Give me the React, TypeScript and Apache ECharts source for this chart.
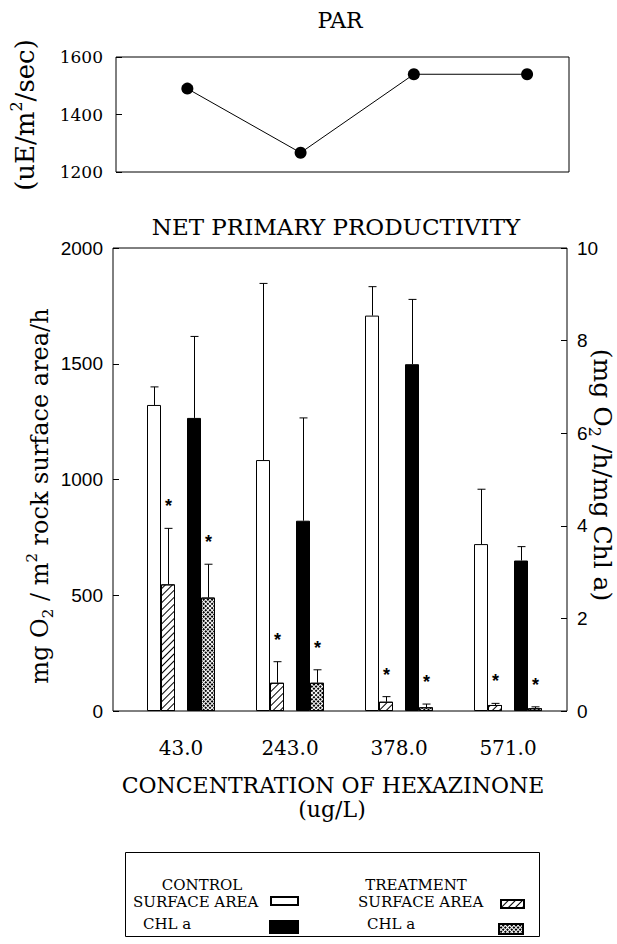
import React, { useEffect, useRef } from "react";
import * as echarts from "echarts";

// ---------- data ----------
const concentrations = ["43.0", "243.0", "378.0", "571.0"];
const parValues = [1490, 1267, 1540, 1540];

// left axis: mg O2 / m2 rock surface area / h
const controlSurface = [1322, 1084, 1708, 721];
const controlSurfaceErr = [1400, 1847, 1833, 958];
const treatSurface = [547, 122, 40, 26];
const treatSurfaceErr = [789, 213, 62, 33];

// right axis: mg O2 / h / mg Chl a
const controlChl = [6.33, 4.11, 7.49, 3.25];
const controlChlErr = [8.09, 6.33, 8.89, 3.55];
const treatChl = [2.45, 0.61, 0.08, 0.06];
const treatChlErr = [3.17, 0.89, 0.15, 0.09];

const SERIF = "DejaVu Serif";
const SANS = "Liberation Sans";
const BAR_W = 14;
const GAP_W = 12;

const hatchDecal = {
  symbol: "rect",
  symbolSize: 1,
  color: "#000",
  backgroundColor: "#fff",
  dashArrayX: [1, 0],
  dashArrayY: [1, 4],
  rotation: -Math.PI / 4,
};
const crossDecal = {
  symbol: "rect",
  symbolSize: 1,
  color: "#000",
  backgroundColor: "#fff",
  dashArrayX: [2, 1],
  dashArrayY: [2, 1],
  rotation: Math.PI / 4,
};

const plain = (v: number) => String(v);

function errSeries(vals: number[], errs: number[], yIdx: number, offset: number, star: boolean) {
  return {
    type: "custom",
    xAxisIndex: 2,
    yAxisIndex: yIdx,
    z: 5,
    silent: true,
    data: vals.map((v, i) => [i, v, errs[i]]),
    renderItem: (params: any, api: any) => {
      const i = api.value(0);
      const b = api.coord([i, api.value(1)]);
      const t = api.coord([i, api.value(2)]);
      const x = Math.round(b[0] + offset) + 0.5;
      const children: any[] = [
        { type: "line", shape: { x1: x, y1: b[1], x2: x, y2: t[1] }, style: { stroke: "#000", lineWidth: 1 } },
        { type: "line", shape: { x1: x - 4, y1: t[1], x2: x + 4, y2: t[1] }, style: { stroke: "#000", lineWidth: 1 } },
      ];
      if (star) {
        children.push({
          type: "text",
          x: x,
          y: t[1] - 22,
          style: { text: "*", fontSize: 18, fontWeight: "bold", fontFamily: SANS, align: "center", verticalAlign: "middle", fill: "#000" },
        });
      }
      return { type: "group", children };
    },
  };
}

export default function App() {
  const ref = useRef<HTMLDivElement>(null);
  useEffect(() => {
    if (!ref.current) return;
    const chart = echarts.init(ref.current, null, { renderer: "svg" });

    const off0 = -(BAR_W * 4 + GAP_W) / 2;
    const offWhite = off0 + BAR_W / 2;
    const offHatch = off0 + BAR_W * 1.5;
    const offBlack = off0 + BAR_W * 2 + GAP_W + BAR_W / 2;
    const offCross = off0 + BAR_W * 3 + GAP_W + BAR_W / 2;

    const titleStyle = { fontFamily: SERIF, fill: "#000", align: "center", verticalAlign: "middle", textAlign: "center", textVerticalAlign: "middle" };
    const leftText = { fontFamily: SERIF, fill: "#000", fontSize: 15, align: "left", verticalAlign: "middle", textAlign: "left", textVerticalAlign: "middle" };
    const mk = (size: number) => ({
      a: { fontFamily: SERIF, fontSize: size, lineHeight: size + 7, color: "#000", fill: "#000" },
      b: { fontFamily: SERIF, fontSize: Math.round(size * 0.63), lineHeight: 15, verticalAlign: "bottom", color: "#000", fill: "#000" },
      p: { fontFamily: SERIF, fontSize: Math.round(size * 0.63), lineHeight: 15, verticalAlign: "top", color: "#000", fill: "#000" },
    });
    const tick = { show: true, inside: true, length: 6, lineStyle: { color: "#000" } };

    const option: any = {
      animation: false,
      backgroundColor: "#fff",
      grid: [
        { left: 116, top: 57, width: 453, height: 115, show: true, borderColor: "#000", borderWidth: 1, backgroundColor: "transparent" },
        { left: 113, top: 248, width: 454, height: 463, show: true, borderColor: "#000", borderWidth: 1, backgroundColor: "transparent" },
        { left: 126.5, top: 248, width: 436, height: 463, show: false },
      ],
      xAxis: [
        { gridIndex: 0, type: "value", min: -0.63, max: 3.37, show: false },
        { gridIndex: 1, type: "value", min: 0, max: 1, show: false },
        {
          gridIndex: 2,
          type: "category",
          data: concentrations,
          axisLine: { show: false },
          axisTick: { show: false },
          axisLabel: { color: "#000", fontFamily: SERIF, fontSize: 20, margin: 27 },
        },
      ],
      yAxis: [
        {
          gridIndex: 0, type: "value", min: 1200, max: 1600, interval: 200, position: "left",
          axisLine: { show: false, onZero: false }, splitLine: { show: false },
          axisTick: tick,
          axisLabel: { color: "#000", fontFamily: SERIF, fontSize: 17, margin: 13, formatter: plain },
        },
        {
          gridIndex: 1, type: "value", min: 0, max: 2000, interval: 500, position: "left",
          axisLine: { show: false, onZero: false }, splitLine: { show: false },
          axisTick: tick,
          axisLabel: { color: "#000", fontFamily: SANS, fontSize: 19, margin: 10, formatter: plain },
        },
        {
          gridIndex: 1, type: "value", min: 0, max: 10, interval: 2, position: "right",
          axisLine: { show: false, onZero: false }, splitLine: { show: false },
          axisTick: tick,
          axisLabel: { color: "#000", fontFamily: SANS, fontSize: 19, margin: 10, formatter: plain },
        },
        { gridIndex: 2, type: "value", min: 0, max: 2000, show: false },
        { gridIndex: 2, type: "value", min: 0, max: 10, show: false },
      ],
      legend: [
        { data: ["Control surface area"], left: 270, top: 896, itemWidth: 27, itemHeight: 8, icon: "rect", formatter: () => "", selectedMode: false, padding: 0 },
        { data: ["Control CHL a"], left: 269, top: 920, itemWidth: 28, itemHeight: 12, icon: "rect", formatter: () => "", selectedMode: false, padding: 0 },
        { data: ["Treatment surface area"], left: 500, top: 899, itemWidth: 23, itemHeight: 8, icon: "rect", formatter: () => "", selectedMode: false, padding: 0 },
        { data: ["Treatment CHL a"], left: 498, top: 923, itemWidth: 24, itemHeight: 10, icon: "rect", formatter: () => "", selectedMode: false, padding: 0 },
      ],
      series: [
        {
          type: "line", xAxisIndex: 0, yAxisIndex: 0,
          data: parValues.map((v, i) => [i, v]),
          symbol: "circle", symbolSize: 12,
          itemStyle: { color: "#000" }, lineStyle: { color: "#000", width: 1 },
        },
        {
          name: "Control surface area", type: "bar", xAxisIndex: 2, yAxisIndex: 3,
          data: controlSurface, barWidth: BAR_W, barGap: "0%",
          itemStyle: { color: "#fff", borderColor: "#000", borderWidth: 1 },
        },
        {
          name: "Treatment surface area", type: "bar", xAxisIndex: 2, yAxisIndex: 3,
          data: treatSurface, barWidth: BAR_W, barGap: "0%",
          itemStyle: { color: "#fff", borderColor: "#000", borderWidth: 1, decal: hatchDecal },
        },
        {
          name: "spacer", type: "bar", xAxisIndex: 2, yAxisIndex: 3,
          data: concentrations.map(() => "-"), barWidth: GAP_W, barGap: "0%", silent: true,
        },
        {
          name: "Control CHL a", type: "bar", xAxisIndex: 2, yAxisIndex: 4,
          data: controlChl, barWidth: BAR_W, barGap: "0%",
          itemStyle: { color: "#000", borderColor: "#000", borderWidth: 1 },
        },
        {
          name: "Treatment CHL a", type: "bar", xAxisIndex: 2, yAxisIndex: 4,
          data: treatChl, barWidth: BAR_W, barGap: "0%",
          itemStyle: { color: "#fff", borderColor: "#000", borderWidth: 1, decal: crossDecal },
        },
        errSeries(controlSurface, controlSurfaceErr, 3, offWhite, false),
        errSeries(treatSurface, treatSurfaceErr, 3, offHatch, true),
        errSeries(controlChl, controlChlErr, 4, offBlack, false),
        errSeries(treatChl, treatChlErr, 4, offCross, true),
      ],
      graphic: [
        { type: "text", x: 340, y: 20, style: { ...titleStyle, text: "PAR", fontSize: 22 } },
        { type: "text", x: 336, y: 227, style: { ...titleStyle, text: "NET PRIMARY PRODUCTIVITY", fontSize: 23 } },
        { type: "text", x: 333, y: 785, style: { ...titleStyle, text: "CONCENTRATION OF HEXAZINONE", fontSize: 22 } },
        { type: "text", x: 332, y: 809, style: { ...titleStyle, text: "(ug/L)", fontSize: 22 } },
        {
          type: "text", x: 25, y: 115, rotation: Math.PI / 2,
          style: { ...titleStyle, text: "{a|(uE/m}{p|2}{a|/sec)}", rich: mk(26) },
        },
        {
          type: "text", x: 40, y: 496, rotation: Math.PI / 2,
          style: {
            ...titleStyle,
            text: "{a|mg O}{b|2}{a| / m}{p|2}{a| rock surface area/h}",
            rich: mk(24),
          },
        },
        {
          type: "text", x: 602, y: 475, rotation: -Math.PI / 2,
          style: {
            ...titleStyle,
            text: "{a|(mg O}{b|2}{a| /h/mg Chl a)}",
            rich: mk(25),
          },
        },
        { type: "rect", shape: { x: 125.5, y: 852.5, width: 414, height: 84 }, style: { fill: "none", stroke: "#000", lineWidth: 1 } },
        { type: "text", x: 202, y: 885, style: { ...titleStyle, text: "CONTROL", fontSize: 15 } },
        { type: "text", x: 416, y: 885, style: { ...titleStyle, text: "TREATMENT", fontSize: 15 } },
        { type: "text", x: 133, y: 902, style: { ...leftText, text: "SURFACE AREA" } },
        { type: "text", x: 143, y: 924, style: { ...leftText, text: "CHL a" } },
        { type: "text", x: 358, y: 902, style: { ...leftText, text: "SURFACE AREA" } },
        { type: "text", x: 367, y: 924, style: { ...leftText, text: "CHL a" } },
      ],
    };
    chart.setOption(option);
    return () => chart.dispose();
  }, []);
  return (
    <div
      ref={ref}
      style={{ position: "fixed", left: 0, top: 0, width: 617, height: 944, background: "#fff" }}
    />
  );
}
